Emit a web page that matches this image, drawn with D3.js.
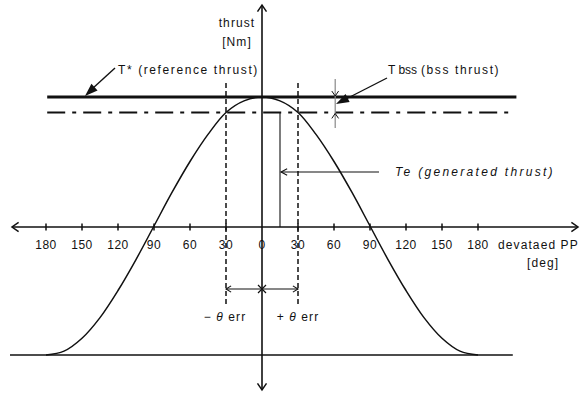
<!DOCTYPE html>
<html>
<head>
<meta charset="utf-8">
<script src="https://cdn.jsdelivr.net/npm/d3@7"></script>
<style>
  html, body { margin: 0; padding: 0; background: #fff; }
  svg { display: block; }
  text { font-family: "Liberation Sans", Arial, sans-serif; fill: #111; font-size: 12px; letter-spacing: 1.1px; }
  text.tick { letter-spacing: 0.5px; }
  text.wide { letter-spacing: 1.6px; }
  text.note { letter-spacing: 2.3px; font-style: italic; }
</style>
</head>
<body>
<svg id="chart" width="583" height="394"></svg>
<script>
// Deviated phase angle ticks (deg) and their printed labels
const tickDegs   = [-180, -150, -120, -90, -60, -30, 0, 30, 60, 90, 120, 150, 180];
const tickLabels = ["180", "150", "120", "90", "60", "30", "0", "30", "60", "90", "120", "150", "180"];

// Generated thrust curve (normalised) against deviated angle
const curveDegs   = [-180, -165, -150, -135, -120, -105, -90, -75, -60, -45, -30, -15, 0,
                     15, 30, 45, 60, 75, 90, 105, 120, 135, 150, 165, 180];
const curveThrust = [-1.00, -0.97, -0.87, -0.71, -0.50, -0.26, 0.00, 0.26, 0.50, 0.71, 0.88, 0.97, 1.00,
                     0.97, 0.88, 0.71, 0.50, 0.26, 0.00, -0.26, -0.50, -0.71, -0.87, -0.97, -1.00];

const refThrust = 1.00;   // T*  reference thrust
const bssThrust = 0.88;   // T bss  thrust
const errDeg    = 30;     // ± theta err
const teDeg     = 15;     // angle where Te is marked

const svg = d3.select("#chart");
const x = d3.scaleLinear().domain([-180, 180]).range([46, 478]);
const y = d3.scaleLinear().domain([-1, 1]).range([355, 97]);
const x0 = x(0), y0 = y(0) + 1;

// open "V" arrowhead at (px,py) pointing along angle ang (radians)
function openHead(g, px, py, ang, len, spread, w) {
  const a1 = ang + Math.PI - spread, a2 = ang + Math.PI + spread;
  g.append("path")
    .attr("d", `M${px + len * Math.cos(a1)},${py + len * Math.sin(a1)}L${px},${py}L${px + len * Math.cos(a2)},${py + len * Math.sin(a2)}`)
    .attr("fill", "none").attr("stroke", "#111").attr("stroke-width", w || 1.4);
}
function filledHead(g, px, py, ang, len, half) {
  const bx = px - len * Math.cos(ang), by = py - len * Math.sin(ang);
  const nx = -Math.sin(ang), ny = Math.cos(ang);
  g.append("path")
    .attr("d", `M${px},${py}L${bx + nx * half},${by + ny * half}L${bx - nx * half},${by - ny * half}Z`)
    .attr("fill", "#111");
}

const g = svg.append("g");

// bottom baseline (thrust = -1)
g.append("line")
  .attr("x1", x(-210)).attr("x2", x(209)).attr("y1", y(-1)).attr("y2", y(-1))
  .attr("stroke", "#111").attr("stroke-width", 1.5);

// T* reference thrust line
g.append("line")
  .attr("x1", x(-179)).attr("x2", x(212)).attr("y1", y(refThrust)).attr("y2", y(refThrust))
  .attr("stroke", "#111").attr("stroke-width", 3);

// T bss dash-dot line
g.append("line")
  .attr("x1", x(-179)).attr("x2", x(211)).attr("y1", y(bssThrust)).attr("y2", y(bssThrust))
  .attr("stroke", "#111").attr("stroke-width", 2)
  .attr("stroke-dasharray", "18,7,4,7");

// ± theta err dashed verticals
[-errDeg, errDeg].forEach(d => {
  g.append("line")
    .attr("x1", x(d)).attr("x2", x(d)).attr("y1", 83).attr("y2", 304)
    .attr("stroke", "#111").attr("stroke-width", 1.5)
    .attr("stroke-dasharray", "5,3");
});

// x axis with arrows at both ends
g.append("line").attr("x1", 12).attr("x2", 578).attr("y1", y0).attr("y2", y0)
  .attr("stroke", "#111").attr("stroke-width", 1.5);
openHead(g, 12, y0, Math.PI, 8, 0.6, 1.5);
openHead(g, 578, y0, 0, 8, 0.6, 1.5);

// y axis with arrows at both ends
g.append("line").attr("x1", x0).attr("x2", x0).attr("y1", 5).attr("y2", 390)
  .attr("stroke", "#111").attr("stroke-width", 1.6);
openHead(g, x0, 5, -Math.PI / 2, 8, 0.6, 1.5);
openHead(g, x0, 390, Math.PI / 2, 8, 0.6, 1.5);

// tick marks and labels
tickDegs.forEach((d, i) => {
  if (d !== 0) {
    g.append("line").attr("x1", x(d)).attr("x2", x(d)).attr("y1", y0 - 3.5).attr("y2", y0 + 3.5)
      .attr("stroke", "#111").attr("stroke-width", 1.5);
  }
  g.append("text").attr("class", "tick").attr("x", x(d)).attr("y", y0 + 22)
    .attr("text-anchor", "middle").text(tickLabels[i]);
});

// generated thrust curve
const line = d3.line().x((d, i) => x(curveDegs[i])).y(d => y(d)).curve(d3.curveCatmullRom);
g.append("path").datum(curveThrust).attr("d", line)
  .attr("fill", "none").attr("stroke", "#111").attr("stroke-width", 1.5);

// Te vertical and leader arrow
g.append("line").attr("x1", x(teDeg)).attr("x2", x(teDeg)).attr("y1", y(bssThrust)).attr("y2", y0)
  .attr("stroke", "#111").attr("stroke-width", 1.1);
g.append("line").attr("x1", x(teDeg) + 1).attr("x2", 379).attr("y1", 172).attr("y2", 172)
  .attr("stroke", "#111").attr("stroke-width", 1.1);
openHead(g, x(teDeg) + 1, 172, Math.PI, 7, 0.5, 1.1);
g.append("text").attr("class", "note").attr("x", 395).attr("y", 176).text("Te (generated thrust)");

// ± theta err dimension line
const dimY = 289;
g.append("line").attr("x1", x(-errDeg)).attr("x2", x(errDeg)).attr("y1", dimY).attr("y2", dimY)
  .attr("stroke", "#111").attr("stroke-width", 1.1);
openHead(g, x(-errDeg), dimY, Math.PI, 6, 0.55, 1.1);
openHead(g, x(errDeg), dimY, 0, 6, 0.55, 1.1);
g.append("path").attr("d", `M${x0 - 4},${dimY - 4}L${x0 + 4},${dimY + 4}M${x0 + 4},${dimY - 4}L${x0 - 4},${dimY + 4}`)
  .attr("stroke", "#111").attr("stroke-width", 1.2);
const errL = g.append("text").attr("x", 225).attr("y", 321).attr("text-anchor", "middle");
errL.append("tspan").text("− ");
errL.append("tspan").attr("font-style", "italic").text("θ");
errL.append("tspan").text(" err");
const errR = g.append("text").attr("x", 298).attr("y", 321).attr("text-anchor", "middle");
errR.append("tspan").text("+ ");
errR.append("tspan").attr("font-style", "italic").text("θ");
errR.append("tspan").text(" err");

// T bss dimension marker
const bx = x(61);
g.append("line").attr("x1", bx).attr("x2", bx).attr("y1", 79).attr("y2", 128)
  .attr("stroke", "#888").attr("stroke-width", 1.2);
openHead(g, bx, y(refThrust) - 1, Math.PI / 2, 6, 0.6, 1);
openHead(g, bx, y(bssThrust) + 1, -Math.PI / 2, 6, 0.6, 1);
g.append("line").attr("x1", 387).attr("y1", 78).attr("x2", 344).attr("y2", 100)
  .attr("stroke", "#111").attr("stroke-width", 1.4);
filledHead(g, 336, 104, Math.atan2(104 - 78, 336 - 387), 13, 4.5);
g.append("text").attr("x", 388).attr("y", 74).style("letter-spacing", "0px").text("T bss");
g.append("text").attr("class", "wide").attr("x", 421).attr("y", 74).text("(bss thrust)");

// T* label with leader
g.append("line").attr("x1", 115).attr("y1", 68).attr("x2", 92).attr("y2", 89)
  .attr("stroke", "#111").attr("stroke-width", 1.4);
filledHead(g, 85, 96, Math.atan2(96 - 68, 85 - 115), 13, 4.5);
g.append("text").attr("class", "wide").attr("x", 118).attr("y", 74).text("T* (reference thrust)");

// axis titles
g.append("text").attr("x", 237).attr("y", 27).attr("text-anchor", "middle").text("thrust");
g.append("text").attr("x", 237).attr("y", 46).attr("text-anchor", "middle").text("[Nm]");
g.append("text").attr("x", 498).attr("y", y0 + 22).text("devataed PP");
g.append("text").attr("x", 527).attr("y", y0 + 40).text("[deg]");
</script>
</body>
</html>
